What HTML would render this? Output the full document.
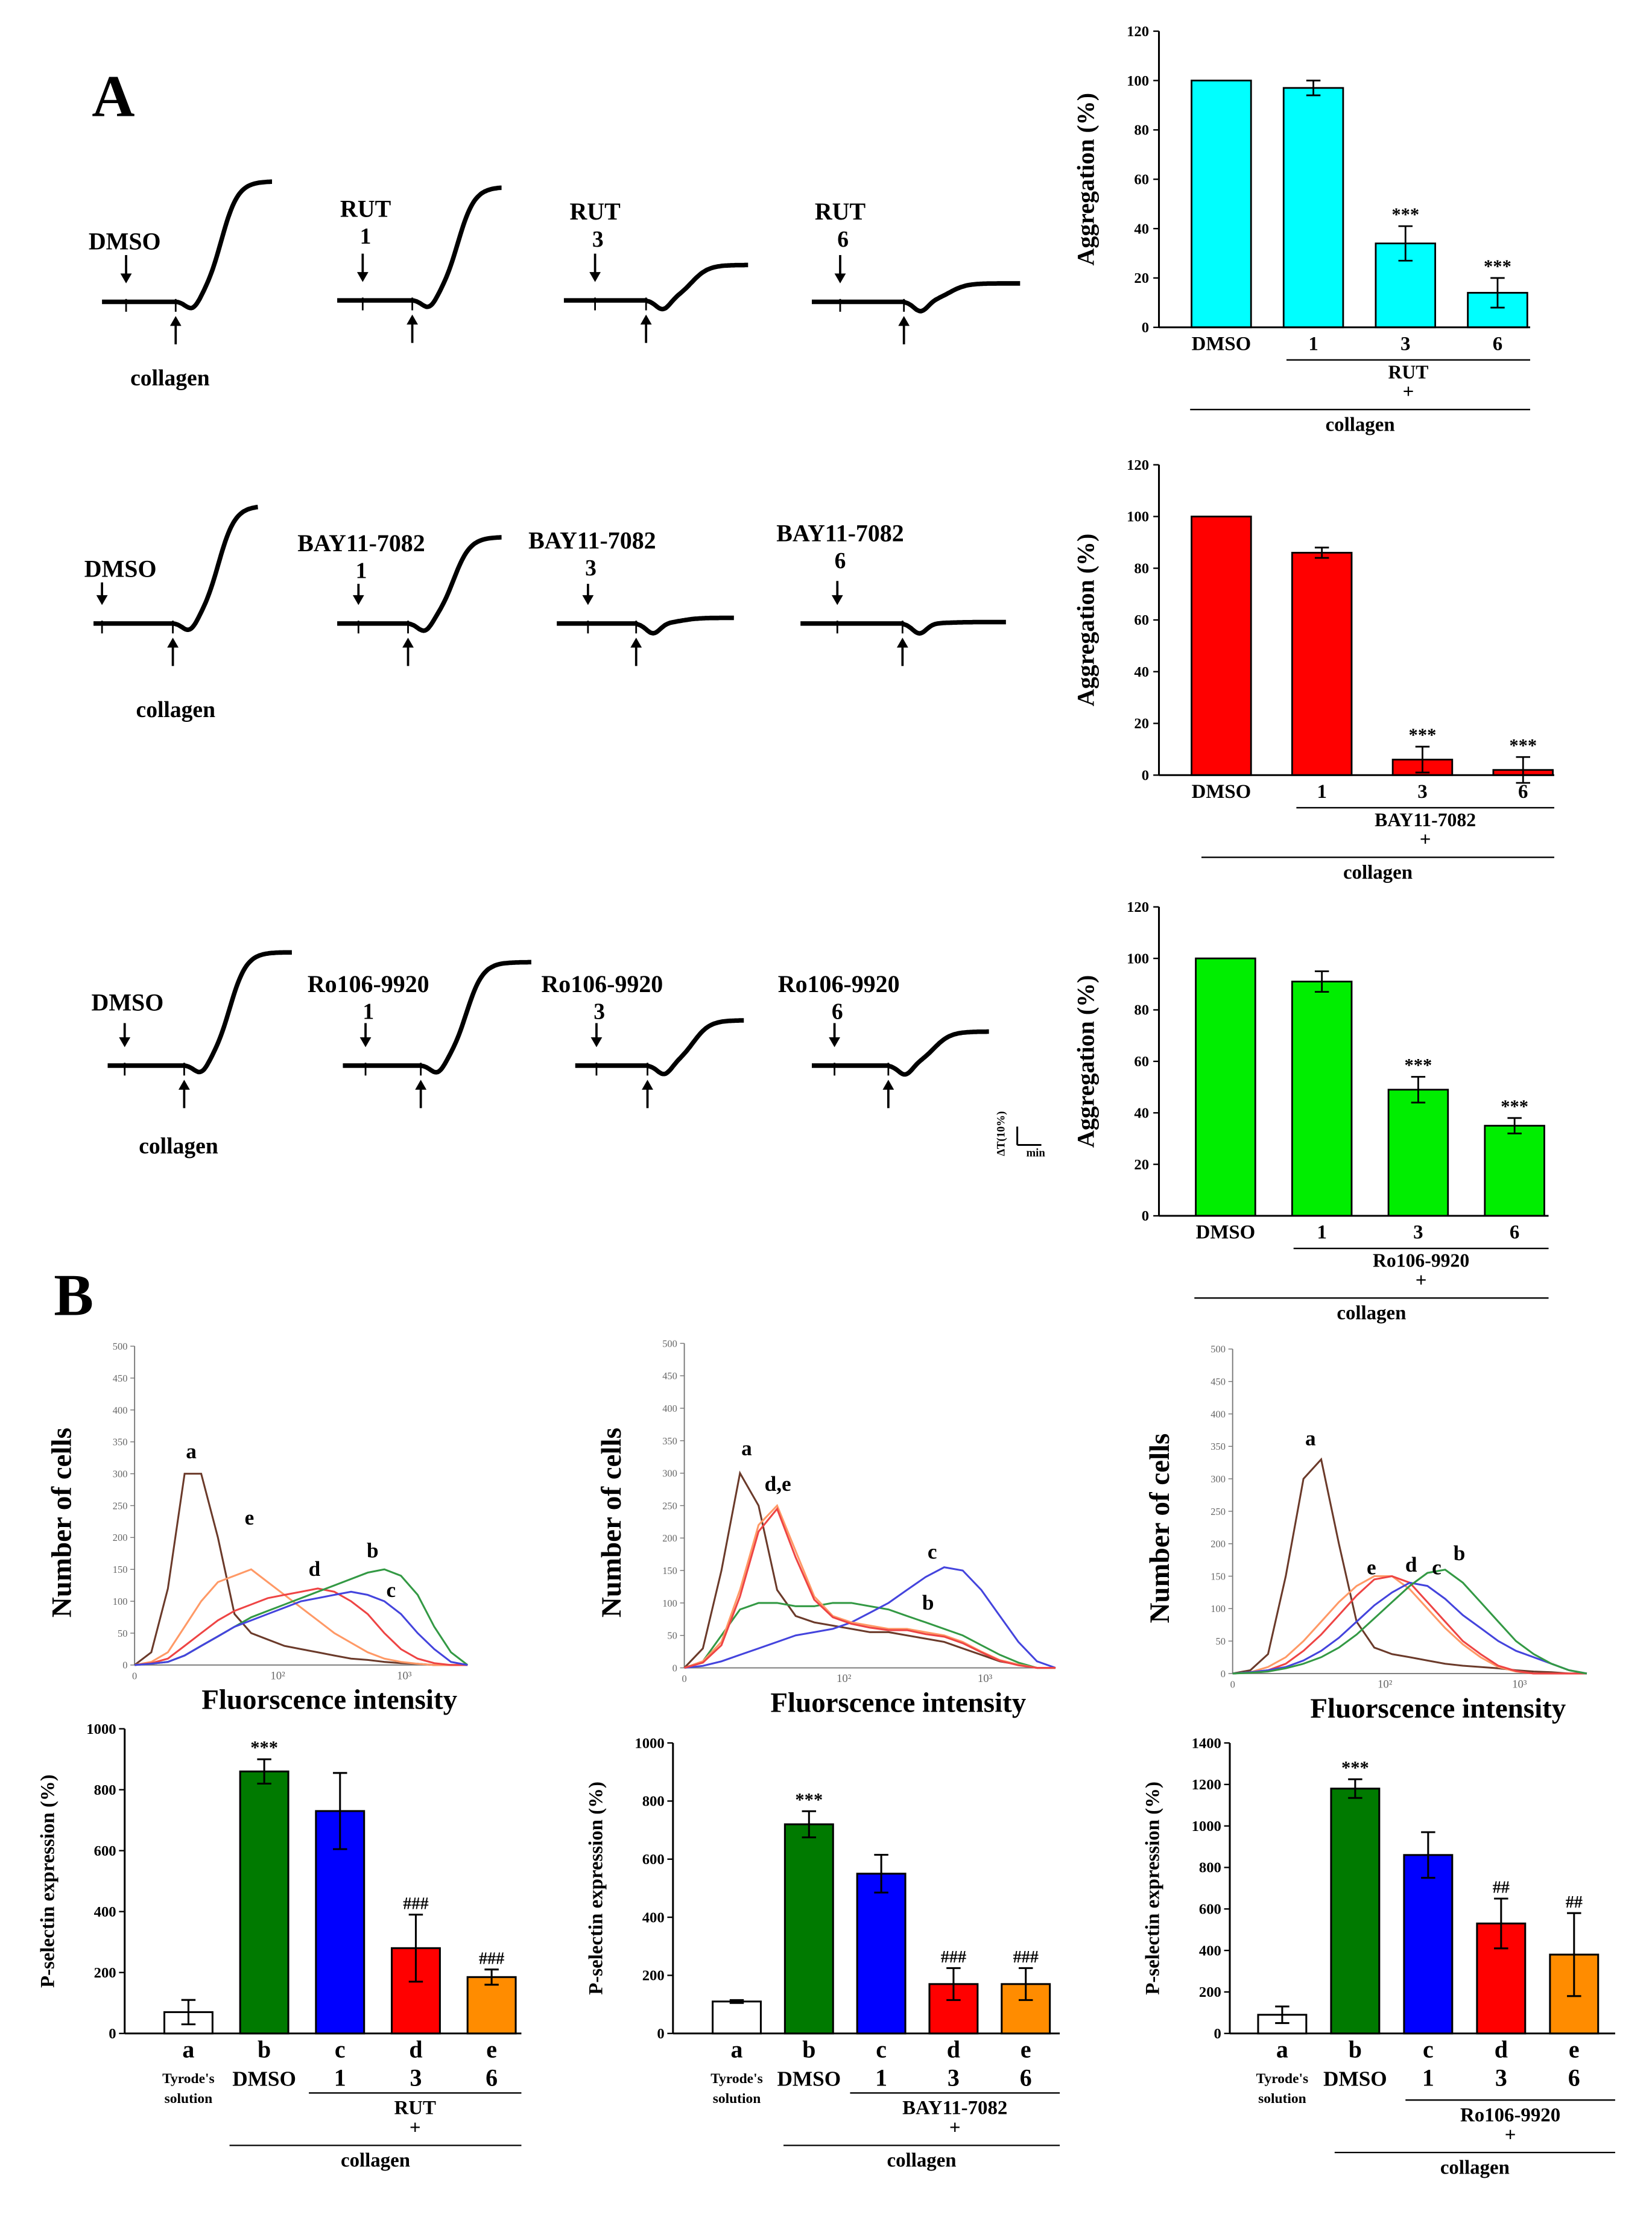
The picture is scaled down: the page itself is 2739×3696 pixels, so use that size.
<!DOCTYPE html>
<html><head><meta charset="utf-8"><style>
html,body{margin:0;padding:0;background:#fff}
svg{display:block;font-family:"Liberation Serif",serif;font-weight:bold}
</style></head><body>
<svg id="fig" xmlns="http://www.w3.org/2000/svg" width="2739" height="3696" viewBox="0 0 1166 1573" preserveAspectRatio="none"></svg>
<script>
// ---------- DATA ----------
const aggCats=["DMSO","1","3","6"];
const aggRUT=[100,97,34,14];
const aggRUTErr=[0,3,7,6];
const aggBAY=[100,86,6,2];
const aggBAYErr=[0,2,5,5];
const aggRo=[100,91,49,35];
const aggRoErr=[0,4,5,3];
const aggTicks=[0,20,40,60,80,100,120];

const pselCats=["a","b","c","d","e"];
const pselRUT=[70,860,730,280,185];
const pselRUTErr=[40,40,125,110,25];
const pselBAY=[110,720,550,170,170];
const pselBAYErr=[5,45,65,55,55];
const pselRo=[90,1180,860,530,380];
const pselRoErr=[40,45,110,120,200];
const pselTicks1=[0,200,400,600,800,1000];
const pselTicks3=[0,200,400,600,800,1000,1200,1400];

const histTicks=[0,50,100,150,200,250,300,350,400,450,500];
const h1a=[0,20,120,300,300,200,80,50,40,30,25,20,15,10,8,5,3,2,0,0,0];
const h1e=[0,5,20,60,100,130,140,150,130,110,90,70,50,35,20,10,5,2,0,0,0];
const h1d=[0,3,10,30,50,70,85,95,105,110,115,120,115,100,80,50,25,10,3,0,0];
const h1b=[0,2,5,15,30,45,60,75,85,95,105,115,125,135,145,150,140,110,60,20,0];
const h1c=[0,2,5,15,30,45,60,70,80,90,100,105,110,115,110,100,80,50,25,5,0];
const h2a=[0,30,150,300,250,120,80,70,65,60,55,55,50,45,40,30,20,10,5,0,0];
const h2e=[0,10,40,120,220,250,180,110,80,70,65,60,60,55,50,40,25,12,5,0,0];
const h2d=[0,8,35,110,210,245,170,105,78,68,62,58,58,52,48,38,24,11,4,0,0];
const h2b=[0,10,50,90,100,100,95,95,100,100,95,90,80,70,60,50,35,20,8,0,0];
const h2c=[0,3,10,20,30,40,50,55,60,70,85,100,120,140,155,150,120,80,40,10,0];
const h3a=[0,5,30,150,300,330,200,80,40,30,25,20,15,12,10,8,5,3,2,0,0];
const h3e=[0,2,10,25,50,80,110,135,150,150,130,100,70,45,25,10,3,0,0,0,0];
const h3d=[0,2,5,15,35,60,90,120,145,150,140,110,80,50,30,12,4,0,0,0,0];
const h3c=[0,2,5,10,20,35,55,80,105,125,140,135,115,90,70,50,35,25,15,5,0];
const h3b=[0,1,3,8,15,25,40,60,85,110,135,155,160,140,110,80,50,30,15,5,0];

// ---------- HELPERS ----------
const NS="http://www.w3.org/2000/svg";
const S=document.getElementById('fig');
function mk(tag,a,p){const e=document.createElementNS(NS,tag);for(const k in a)e.setAttribute(k,a[k]);(p||S).appendChild(e);return e;}
function T(x,y,s,size,name,extra){const e=mk('text',Object.assign({x:x,y:y,'font-size':size,'text-anchor':'middle'},extra||{}));e.textContent=s;


return e;}
function L(x1,y1,x2,y2,w,name,col){const e=mk('line',{x1:x1,y1:y1,x2:x2,y2:y2,stroke:col||'#000','stroke-width':w||1.2});


return e;}

T(80,82,"A",42,"panel-a-label");
T(52,928,"B",42,"panel-b-label");

// ---------- Aggregation bar charts ----------
function aggChart(o,vals,errs,col,name){
  const g=mk('g',{});
  
  
  const y=v=>o.y0-(v/120)*(o.y0-o.y1);
  const xc=i=>o.x0+o.first+i*o.step;
  L(o.x0,o.y1,o.x0,o.y0,1.3,name+'-y-axis');
  L(o.x0,o.y0,o.xEnd,o.y0,1.3,name+'-x-axis');
  aggTicks.forEach(t=>{L(o.x0-4,y(t),o.x0,y(t),1,name+'-y-tick');
    T(o.x0-7,y(t)+3.5,String(t),10.5,name+'-y-tick-label',{'text-anchor':'end'});});
  T(0,0,"Aggregation (%)",17,name+'-y-axis-title',{transform:`translate(${o.x0-46},${(o.y0+o.y1)/2}) rotate(-90)`});
  vals.forEach((v,i)=>{
    const r=mk('rect',{x:xc(i)-21,y:y(v),width:42,height:o.y0-y(v),fill:col,stroke:'#000','stroke-width':1.2},g);
    
    
    if(errs[i]>0){const a=y(v+errs[i]),b=y(v-errs[i]);
      L(xc(i),a,xc(i),b,1.2,'error-bar');L(xc(i)-5,a,xc(i)+5,a,1.2,'error-cap');L(xc(i)-5,b,xc(i)+5,b,1.2,'error-cap');}
    if(i>=2) T(xc(i),y(v+errs[i])-4,"***",13,'significance-mark');
    T(xc(i),o.y0+16,aggCats[i],14,'x-category-label');
  });
  L(o.l1a,o.y0+23,o.xEnd,o.y0+23,1,name+'-drug-line');
  T((o.l1a+o.xEnd)/2,o.y0+36,o.drug,13.5,name+'-drug-label');
  T((o.l1a+o.xEnd)/2,o.y0+50,"+",14,'plus-sign');
  L(o.l2a,o.y0+58,o.xEnd,o.y0+58,1,name+'-collagen-line');
  T((o.l2a+o.xEnd)/2,o.y0+73,"collagen",14,name+'-collagen-label');
}
aggChart({x0:818,y0:231,y1:22,first:44,step:65,xEnd:1080,l1a:908,l2a:840,drug:"RUT"},aggRUT,aggRUTErr,'#00ffff','agg-chart-rut');
aggChart({x0:818,y0:547,y1:328,first:44,step:71,xEnd:1097,l1a:915,l2a:848,drug:"BAY11-7082"},aggBAY,aggBAYErr,'#ff0000','agg-chart-bay');
aggChart({x0:818,y0:858,y1:640,first:47,step:68,xEnd:1093,l1a:913,l2a:843,drug:"Ro106-9920"},aggRo,aggRoErr,'#00ee00','agg-chart-ro');

// ---------- Traces ----------
function arrow(x,yTip,dir,name,len){
  const yTail=yTip-dir*len;
  L(x,yTail,x,yTip-dir*5,1.6,name);
  const e=mk('polygon',{points:`${x-4},${yTip-dir*7} ${x+4},${yTip-dir*7} ${x},${yTip}`,fill:'#000'});
  
  
}
function trace(x0,x1,base,drug,coll,amp,lbl,sub,lx,ly,name,alen){
  let d=`M${x0},${base}`;
  for(let x=x0;x<=x1;x+=1){
    let yy=base;
    if(x>coll){const t=x-coll;yy=base+7*Math.exp(-Math.pow((t-12)/7,2))-amp/(1+Math.exp(-(t-32)/6));}
    d+=` L${x},${yy.toFixed(1)}`;
  }
  const p=mk('path',{d:d,fill:'none',stroke:'#000','stroke-width':3.2,'stroke-linejoin':'round'});
  
  
  L(drug,base-2,drug,base+7,1.2,name+'-drug-mark');
  L(coll,base-2,coll,base+7,1.2,name+'-collagen-mark');
  arrow(drug,base-13,1,name+'-drug-arrow',alen||20);
  arrow(coll,base+10,-1,name+'-collagen-arrow',20);
  T(lx,ly,lbl,17,name+'-label');
  if(sub) T(drug+2,ly+19,sub,16,name+'-dose');
}
trace(72,192,213,89,124,85,"DMSO","",88,176,'trace-dmso-1');
T(120,272,"collagen",16,'collagen-label');
trace(238,354,212,256,291,80,"RUT","1",258,153,'trace-rut-1');
trace(398,528,212,420,456,25,"RUT","3",420,155,'trace-rut-3');
trace(573,720,213,593,638,13,"RUT","6",593,155,'trace-rut-6');
trace(66,182,440,72,122,83,"DMSO","",85,407,'trace-dmso-2',16);
T(124,506,"collagen",16,'collagen-label');
trace(238,354,440,253,288,61,"BAY11-7082","1",255,389,'trace-bay-1',15);
trace(393,518,440,415,449,4,"BAY11-7082","3",418,387,'trace-bay-3',15);
trace(565,710,440,591,637,1,"BAY11-7082","6",593,382,'trace-bay-6',17);
trace(76,206,752,88,130,80,"DMSO","",90,713,'trace-dmso-3',17);
T(126,814,"collagen",16,'collagen-label');
trace(242,375,752,258,297,73,"Ro106-9920","1",260,700,'trace-ro-1',17);
trace(406,525,752,421,457,32,"Ro106-9920","3",425,700,'trace-ro-3',17);
trace(573,698,752,589,627,24,"Ro106-9920","6",592,700,'trace-ro-6',17);
// scale bar
L(718,795,718,808,1.3,'scale-bar-vertical');L(718,808,735,808,1.3,'scale-bar-horizontal');
T(0,0,"ΔT(10%)",8,'scale-bar-label',{transform:'translate(709,800) rotate(-90)'});
T(731,816,"min",8,'scale-bar-time');

// ---------- Histograms ----------
function hist(o,curves,labels,name){
  const y=v=>o.y0-(v/500)*(o.y0-o.y1);
  const x=i=>o.x0+(i/20)*(o.xEnd-o.x0);
  L(o.x0,o.y1,o.x0,o.y0,0.8,name+'-y-axis','#777');
  L(o.x0,o.y0,o.xEnd,o.y0,0.8,name+'-x-axis','#777');
  histTicks.forEach(t=>{L(o.x0-3,y(t),o.x0,y(t),0.6,name+'-tick','#777');
    T(o.x0-5,y(t)+2.5,String(t),7,name+'-tick-label',{'text-anchor':'end','font-weight':'normal',fill:'#666'});});
  T(o.x0,o.y0+10,"0",7,'x-tick-label',{'font-weight':'normal',fill:'#666'});
  T(o.x0+0.43*(o.xEnd-o.x0),o.y0+10,"10²",8,'x-tick-label',{'font-weight':'normal',fill:'#666'});
  T(o.x0+0.81*(o.xEnd-o.x0),o.y0+10,"10³",8,'x-tick-label',{'font-weight':'normal',fill:'#666'});
  T(0,0,"Number of cells",20,name+'-y-title',{transform:`translate(${o.x0-45},${(o.y0+o.y1)/2+12}) rotate(-90)`});
  T((o.x0+o.xEnd)/2+20,o.y0+31,"Fluorscence intensity",20,name+'-x-title');
  curves.forEach(c=>{
    const pts=c.v.map((v,i)=>x(i).toFixed(1)+','+y(v).toFixed(1)).join(' ');
    const p=mk('polyline',{points:pts,fill:'none',stroke:c.col,'stroke-width':1.3});
    
    
  });
  labels.forEach(l=>T(l[0],l[1],l[2],15,name+'-curve-label'));
}
hist({x0:95,y0:1175,y1:950,xEnd:330},[{v:h1a,col:'#6b3a2a',n:'a'},{v:h1e,col:'#ff9966',n:'e'},{v:h1d,col:'#ee4444',n:'d'},{v:h1b,col:'#339944',n:'b'},{v:h1c,col:'#4444dd',n:'c'}],
  [[135,1029,"a"],[176,1076,"e"],[222,1112,"d"],[263,1099,"b"],[276,1127,"c"]],'histogram-rut');
hist({x0:483,y0:1177,y1:948,xEnd:745},[{v:h2a,col:'#6b3a2a',n:'a'},{v:h2b,col:'#339944',n:'b'},{v:h2c,col:'#4444dd',n:'c'},{v:h2e,col:'#ff9966',n:'e'},{v:h2d,col:'#ee4444',n:'d'}],
  [[527,1027,"a"],[549,1052,"d,e"],[658,1100,"c"],[655,1136,"b"]],'histogram-bay');
hist({x0:870,y0:1181,y1:952,xEnd:1120},[{v:h3a,col:'#6b3a2a',n:'a'},{v:h3e,col:'#ff9966',n:'e'},{v:h3d,col:'#ee4444',n:'d'},{v:h3c,col:'#4444dd',n:'c'},{v:h3b,col:'#339944',n:'b'}],
  [[925,1020,"a"],[968,1111,"e"],[996,1109,"d"],[1014,1111,"c"],[1030,1101,"b"]],'histogram-ro');

// ---------- P-selectin bar charts ----------
const pcol=['#ffffff','#007a00','#0000ff','#ff0000','#ff8c00'];
function pselChart(o,vals,errs,ticks,name){
  const y=v=>o.y0-(v/o.max)*(o.y0-o.y1);
  const xc=i=>o.x0+o.first+i*o.step;
  L(o.x0,o.y1,o.x0,o.y0,1.3,name+'-y-axis');
  L(o.x0,o.y0,o.xEnd,o.y0,1.3,name+'-x-axis');
  ticks.forEach(t=>{L(o.x0-4,y(t),o.x0,y(t),1,name+'-y-tick');
    T(o.x0-6,y(t)+3.5,String(t),10.5,name+'-y-tick-label',{'text-anchor':'end'});});
  T(0,0,"P-selectin expression (%)",14,name+'-y-title',{transform:`translate(${o.x0-50},${(o.y0+o.y1)/2}) rotate(-90)`});
  vals.forEach((v,i)=>{
    const r=mk('rect',{x:xc(i)-17,y:y(v),width:34,height:o.y0-y(v),fill:pcol[i],stroke:'#000','stroke-width':1.3});
    
    
    const a=y(v+errs[i]),b=y(Math.max(0,v-errs[i]));
    L(xc(i),a,xc(i),b,1.3,'error-bar');L(xc(i)-5,a,xc(i)+5,a,1.3,'error-cap');L(xc(i)-5,b,xc(i)+5,b,1.3,'error-cap');
    if(i===1) T(xc(i),a-4,"***",13,'significance-mark');
    if(i>=3) T(xc(i),a-4,o.hash,12,'significance-mark');
    T(xc(i),o.y0+17,pselCats[i],17,'x-category-label');
  });
  T(xc(0),o.y0+35,"Tyrode's",10,'tyrode-label');
  T(xc(0),o.y0+49,"solution",10,'tyrode-label');
  T(xc(1),o.y0+37,"DMSO",15,'dmso-label');
  ["1","3","6"].forEach((s,k)=>T(xc(k+2),o.y0+37+o.dy,s,17,'dose-label'));
  L(o.l1a,o.y0+o.ly,o.xEnd,o.y0+o.ly,1,name+'-drug-line');
  T((o.l1a+o.xEnd)/2,o.y0+o.ly+15,o.drug,14,name+'-drug-label');
  T((o.l1a+o.xEnd)/2,o.y0+o.ly+29,"+",14,'plus-sign');
  L(o.l2a,o.y0+o.ly+37,o.xEnd,o.y0+o.ly+37,1,name+'-collagen-line');
  T((o.l2a+o.xEnd)/2,o.y0+o.ly+52,"collagen",14,name+'-collagen-label');
}
pselChart({x0:88,y0:1435,y1:1220,max:1000,first:45,step:53.5,xEnd:368,l1a:218,l2a:162,drug:"RUT",hash:"###",ly:42,dy:0},pselRUT,pselRUTErr,pselTicks1,'psel-chart-rut');
pselChart({x0:475,y0:1435,y1:1230,max:1000,first:45,step:51,xEnd:748,l1a:600,l2a:553,drug:"BAY11-7082",hash:"###",ly:42,dy:0},pselBAY,pselBAYErr,pselTicks1,'psel-chart-bay');
pselChart({x0:868,y0:1435,y1:1230,max:1400,first:37,step:51.5,xEnd:1140,l1a:992,l2a:942,drug:"Ro106-9920",hash:"##",ly:47,dy:0},pselRo,pselRoErr,pselTicks3,'psel-chart-ro');
</script>
</body></html>
